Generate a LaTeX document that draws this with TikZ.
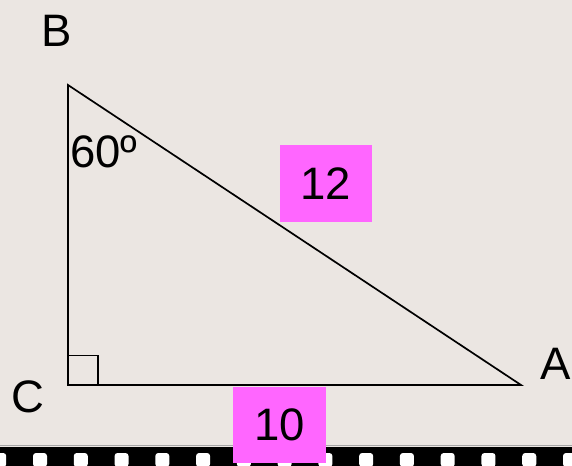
\documentclass[tikz,border=0pt]{standalone}
\usepackage{fontspec}
\setmainfont{Liberation Sans}
\definecolor{bgc}{RGB}{235,230,226}
\definecolor{magbox}{RGB}{255,102,255}
\begin{document}
\begin{tikzpicture}[x=1bp,y=-1bp,
  lbl/.style={inner sep=0pt,font=\fontsize{45.5bp}{50bp}\selectfont,anchor=base},
  magnode/.style={fill=magbox,inner sep=0pt,font=\fontsize{45.5bp}{50bp}\selectfont},
  edge/.style={line width=1.7bp,black,line join=miter},
  dot/.style={fill=white,rounded corners=3bp}]
\fill[bgc] (0,0) rectangle (572,466);
\useasboundingbox (0,0) rectangle (572,466);
% film strip
\fill[black] (0,446.5) rectangle (572,466);
\draw[gray!70,line width=1.2bp] (0,445.8) -- (572,445.8);
\foreach \k in {-1,...,13}{
  \fill[dot] ({40+40.77*\k-7},453) rectangle ({40+40.77*\k+7},467);
}
% triangle
\coordinate (B) at (68,85);
\coordinate (C) at (68,385);
\coordinate (A) at (521,385);
\draw[edge] (B) -- (C) -- (A) -- cycle;
\draw[line width=1.4bp] (68,355.5) -- (98,355.5) -- (98,385);
% labels
\node[lbl] (lB) at (57,47) {B};
\node[lbl] (lC) at (28,412) {C};
\node[lbl] (lA) at (555.5,379) {A};
\node[lbl,anchor=base west] (ang) at (70,168) {60º};
% magenta boxes
\node[magnode,minimum width=92bp,minimum height=77bp] (h) at (326,183.5) {12};
\node[magnode,minimum width=93bp,minimum height=76bp] (b) at (279.5,425) {10};
\end{tikzpicture}
\end{document}
